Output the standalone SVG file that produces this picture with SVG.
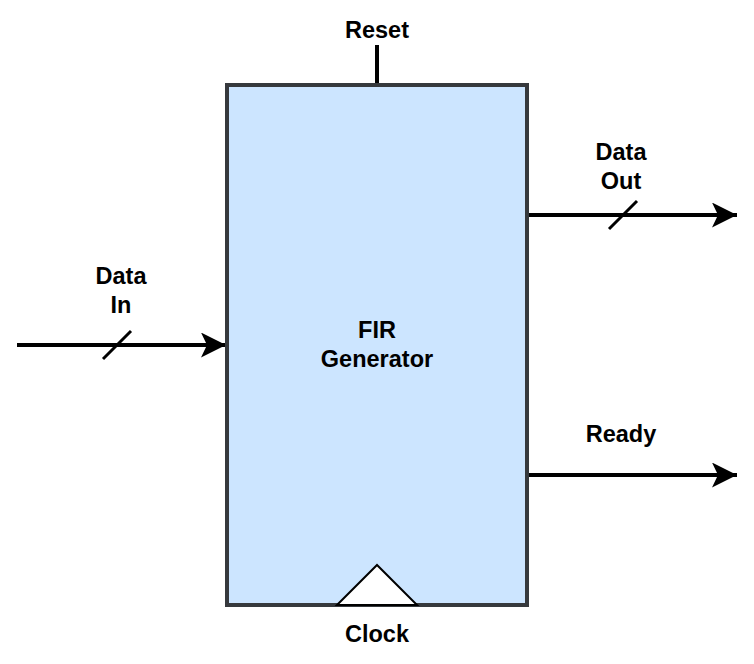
<svg xmlns="http://www.w3.org/2000/svg" width="754" height="664" viewBox="0 0 754 664">
  <style>
    .lbl { font-family: "Liberation Sans", Arial, sans-serif; font-weight: bold; font-size: 23.5px; fill: #000; text-anchor: middle; }
    .wire { stroke: #000; stroke-width: 4; fill: none; }
    .slash { stroke: #000; stroke-width: 3; }
  </style>
  <defs>
    <marker id="arrow" markerUnits="userSpaceOnUse" markerWidth="30" markerHeight="30" refX="25" refY="12.5" orient="auto">
      <path d="M0,0 L25,12.5 L0,25 L6,12.5 Z" fill="#000"/>
    </marker>
  </defs>
  <rect width="754" height="664" fill="#fff"/>
  <g id="connectors">
    <line class="wire" x1="377" y1="45" x2="377" y2="85"/>
    <line class="wire" x1="17" y1="345" x2="226" y2="345" marker-end="url(#arrow)"/>
    <line class="slash" x1="103" y1="359" x2="131" y2="331"/>
    <line class="wire" x1="527" y1="215" x2="737" y2="215" marker-end="url(#arrow)"/>
    <line class="slash" x1="609" y1="229" x2="637" y2="201"/>
    <line class="wire" x1="527" y1="475" x2="737" y2="475" marker-end="url(#arrow)"/>
  </g>
  <g id="fir">
    <rect x="227" y="85" width="300" height="520" fill="#cce5ff" stroke="#36393d" stroke-width="4"/>
    <text class="lbl" x="377" y="338">FIR</text>
    <text class="lbl" x="377" y="367">Generator</text>
  </g>
  <g id="clock">
    <path d="M337,605 L377,565 L417,605 Z" fill="#fff" stroke="#000" stroke-width="2"/>
    <text class="lbl" x="377" y="642">Clock</text>
  </g>
  <g id="reset"><text class="lbl" x="377" y="38">Reset</text></g>
  <g id="data-in"><text class="lbl" x="121" y="284">Data</text><text class="lbl" x="121" y="313">In</text></g>
  <g id="data-out"><text class="lbl" x="621" y="160">Data</text><text class="lbl" x="621" y="189">Out</text></g>
  <g id="ready"><text class="lbl" x="621" y="442">Ready</text></g>
</svg>
